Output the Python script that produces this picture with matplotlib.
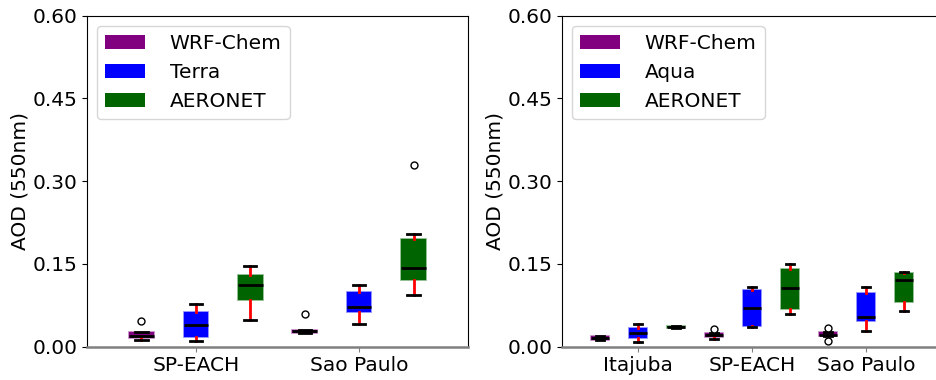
import matplotlib
matplotlib.use("Agg")
import matplotlib.pyplot as plt
from matplotlib.patches import Patch

# Series colours and names
series_colors = ["purple", "blue", "darkgreen"]
left_series = ["WRF-Chem", "Terra", "AERONET"]
right_series = ["WRF-Chem", "Aqua", "AERONET"]

# Left panel: WRF-Chem vs Terra vs AERONET
left_sites = ["SP-EACH", "Sao Paulo"]
# per box: (whislo, q1, med, q3, whishi, fliers), ordered site by site, series within site
left_whislo = [0.012, 0.011, 0.048, 0.024, 0.042, 0.094]
left_q1     = [0.015, 0.018, 0.085, 0.025, 0.063, 0.121]
left_med    = [0.020, 0.040, 0.111, 0.028, 0.072, 0.143]
left_q3     = [0.026, 0.062, 0.129, 0.031, 0.099, 0.195]
left_whishi = [0.026, 0.077, 0.147, 0.031, 0.111, 0.204]
left_fliers = [[0.046], [], [], [0.059], [], [0.330]]

# Right panel: WRF-Chem vs Aqua vs AERONET
right_sites = ["Itajuba", "SP-EACH", "Sao Paulo"]
right_whislo = [0.013, 0.009, 0.034, 0.014, 0.036, 0.059, 0.019, 0.029, 0.064]
right_q1     = [0.013, 0.015, 0.034, 0.018, 0.038, 0.068, 0.019, 0.047, 0.081]
right_med    = [0.016, 0.024, 0.036, 0.021, 0.070, 0.106, 0.022, 0.053, 0.121]
right_q3     = [0.020, 0.034, 0.038, 0.025, 0.103, 0.141, 0.026, 0.098, 0.134]
right_whishi = [0.020, 0.041, 0.038, 0.025, 0.109, 0.149, 0.026, 0.109, 0.135]
right_fliers = [[], [], [], [0.032], [], [], [0.033, 0.011], [], []]

y_ticks = [0.00, 0.15, 0.30, 0.45, 0.60]

plt.rcParams["font.family"] = ["DejaVu Sans"]
plt.rcParams["font.size"] = 14.5

fig = plt.figure(figsize=(9.37, 3.80), dpi=100)
ax_l = fig.add_axes([87 / 937, 33.3 / 380, 381 / 937, 331.2 / 380])
ax_r = fig.add_axes([562 / 937, 33.3 / 380, 380 / 937, 331.2 / 380])


def draw_panel(ax, sites, names, whislo, q1, med, q3, whishi, fliers):
    n = len(names)
    stats = []
    for i in range(len(med)):
        stats.append(dict(whislo=whislo[i], q1=q1[i], med=med[i], q3=q3[i],
                          whishi=whishi[i], fliers=fliers[i]))
    positions = list(range(1, len(med) + 1))
    bp = ax.bxp(stats, positions=positions, widths=0.45, patch_artist=True,
                boxprops=dict(linewidth=1.2),
                whiskerprops=dict(color="red", linewidth=2),
                capprops=dict(color="black", linewidth=2),
                medianprops=dict(color="black", linewidth=2),
                flierprops=dict(marker="o", markerfacecolor="white",
                                markeredgecolor="black", markersize=5,
                                markeredgewidth=1))
    # fill each box with its series colour, with a lighter outline
    for i, box in enumerate(bp["boxes"]):
        rgb = matplotlib.colors.to_rgb(series_colors[i % n])
        box.set_facecolor(rgb)
        box.set_edgecolor((*rgb, 0.5))

    ax.set_xlim(0, len(med) + 1)
    ax.set_xticks([n * k + (n + 1) / 2 for k in range(len(sites))])
    ax.set_xticklabels(sites)
    ax.set_ylim(0, 0.6)
    ax.set_yticks(y_ticks)
    ax.set_yticklabels([f"{v:.2f}" for v in y_ticks])
    ax.set_ylabel("AOD (550nm)", labelpad=2)
    ax.spines["bottom"].set_color("gray")
    ax.spines["bottom"].set_linewidth(1.8)
    ax.tick_params(axis="x", colors="gray", labelcolor="black")
    handles = [Patch(facecolor=series_colors[j], label=names[j]) for j in range(n)]
    ax.legend(handles=handles, loc="upper left", handlelength=2.0,
              handletextpad=1.2, fontsize=14.5)


draw_panel(ax_l, left_sites, left_series, left_whislo, left_q1, left_med,
           left_q3, left_whishi, left_fliers)
draw_panel(ax_r, right_sites, right_series, right_whislo, right_q1, right_med,
           right_q3, right_whishi, right_fliers)

fig.savefig("out.png", dpi=100)
